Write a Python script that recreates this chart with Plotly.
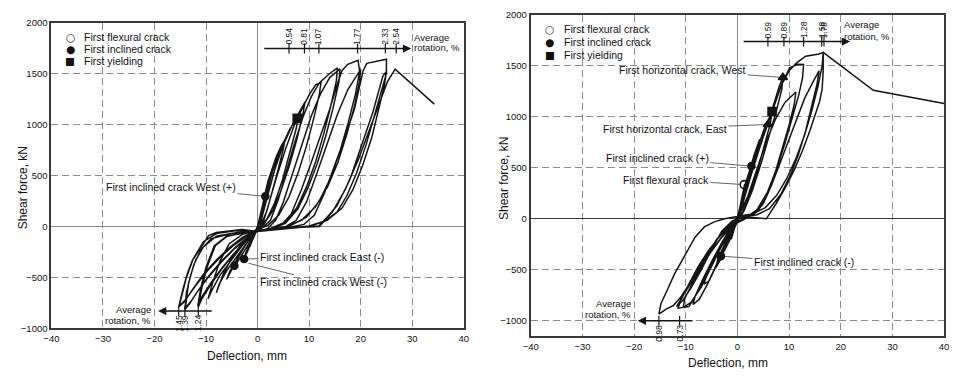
import plotly.graph_objects as go

# ---------------- data ----------------
# Specimen 1 (left): deflection (mm), shear force (kN) along the loading history
s1_path = [
    (0, 0), (0.5, 110), (1.0, 230), (1.6, 340), (1.4, 270), (0.8, 130), (0.1, 0), (-0.5, -70), (-1.0, -140),
    (-1.5, -200), (-1.3, -150), (-0.7, -70), (0, -10),
    (0.6, 110), (1.3, 290), (2.0, 440), (2.8, 560), (2.5, 470), (1.7, 280), (0.8, 100), (0, -20), (-0.9, -120),
    (-1.8, -230), (-2.6, -320), (-2.3, -260), (-1.4, -150), (-0.4, -50),
    (0.4, 60), (1.3, 280), (2.4, 500), (3.6, 680), (4.5, 780), (5.3, 850), (5.0, 760), (4.0, 560), (2.9, 340),
    (1.8, 150), (0.6, 10), (-0.8, -90), (-2.2, -210), (-3.6, -330), (-4.5, -400), (-4.0, -330), (-2.8, -220),
    (-1.5, -120), (-0.3, -40),
    (0.5, 50), (1.6, 290), (2.9, 540), (4.4, 750), (6.2, 950), (7.9, 1080), (7.5, 960), (6.2, 700), (4.8, 450),
    (3.3, 230), (1.8, 70), (0.3, -20), (-1.4, -110), (-3.0, -230), (-4.6, -380), (-6.0, -520), (-5.4, -440),
    (-3.9, -310), (-2.3, -180), (-0.7, -60),
    (0.6, 40), (1.9, 290), (3.3, 550), (5.0, 800), (6.8, 1000), (8.2, 1130), (9.2, 1220), (8.8, 1100), (7.6, 850),
    (6.2, 600), (4.6, 360), (3.0, 160), (1.2, 20), (-0.8, -60), (-2.8, -150), (-4.8, -290), (-6.6, -460),
    (-8.0, -650), (-7.4, -560), (-5.8, -420), (-4.0, -290), (-2.2, -170), (-0.5, -60),
    (1.0, 20), (2.4, 260), (3.9, 520), (5.5, 770), (7.1, 990), (8.6, 1150), (10.0, 1290), (11.3, 1390),
    (12.3, 1410), (12.0, 1300), (10.9, 1060), (9.5, 790), (7.9, 530), (6.1, 290), (4.1, 110), (2.0, 10),
    (-0.5, -40), (-3.0, -80), (-5.5, -170), (-7.3, -340), (-8.7, -550), (-9.6, -710), (-8.9, -630), (-7.3, -480),
    (-5.3, -340), (-3.3, -210), (-1.3, -90),
    (1.0, -10), (2.5, 60), (4.0, 260), (5.6, 540), (7.2, 820), (8.8, 1070), (10.4, 1270), (12.0, 1410),
    (14.0, 1500), (15.5, 1555), (15.3, 1430), (14.2, 1180), (12.8, 900), (11.3, 640), (9.6, 400), (7.6, 180),
    (5.2, 40), (2.5, -20), (0, -45), (-3.0, -65), (-6.0, -100), (-8.2, -190), (-9.8, -400), (-10.8, -600),
    (-11.5, -790), (-10.8, -710), (-9.2, -580), (-7.0, -420), (-4.8, -280), (-2.5, -150), (-0.5, -60),
    (2.0, -20), (3.5, 60), (5.0, 240), (6.8, 520), (8.6, 820), (10.4, 1080), (12.2, 1300), (14.0, 1460),
    (16.0, 1545), (15.8, 1420), (14.6, 1150), (13.2, 880), (11.6, 620), (9.8, 380), (7.8, 170), (5.4, 30),
    (2.6, -25), (0, -50), (-3.0, -70), (-6.0, -95), (-8.4, -190), (-10.0, -400), (-11.0, -600), (-11.6, -780),
    (-10.8, -690), (-9.0, -550), (-6.8, -400), (-4.5, -260), (-2.2, -140), (-0.3, -55),
    (2.5, -20), (4.5, 10), (6.5, 120), (8.5, 360), (10.5, 640), (12.3, 900), (14.0, 1150), (15.5, 1400),
    (16.4, 1530), (17.5, 1590), (19.5, 1630), (19.8, 1520), (19.0, 1300), (17.6, 1020), (16.0, 740), (14.2, 480),
    (12.0, 250), (9.5, 90), (6.5, 10), (3.0, -30), (0, -50), (-4.0, -60), (-8.0, -95), (-10.5, -200),
    (-12.0, -330), (-13.0, -480), (-13.8, -650), (-14.1, -815), (-13.2, -760), (-11.8, -650), (-9.6, -500),
    (-7.0, -350), (-4.5, -220), (-2.0, -110), (-0.2, -50),
    (3.0, -20), (5.5, 0), (7.5, 60), (9.5, 240), (11.5, 520), (13.5, 820), (15.5, 1100), (17.5, 1340),
    (19.2, 1480), (20.0, 1540), (19.8, 1420), (18.8, 1180), (17.3, 900), (15.6, 630), (13.6, 390), (11.2, 190),
    (8.5, 60), (5.5, -5), (2.0, -40), (-1.0, -55), (-5.0, -70), (-9.0, -120), (-11.0, -230), (-12.4, -380),
    (-13.4, -560), (-14.0, -800), (-13.0, -740), (-11.4, -620), (-9.2, -470), (-6.8, -330), (-4.2, -200),
    (-1.8, -100), (0, -45),
    (3.5, -15), (6.5, -5), (9.0, 20), (11.0, 110), (13.0, 330), (15.0, 600), (17.0, 880), (18.8, 1150),
    (20.0, 1400), (20.5, 1530), (21.2, 1600), (22.8, 1615), (25.0, 1640), (25.0, 1500), (24.0, 1320),
    (23.0, 1155), (21.1, 807), (19.2, 521), (17.3, 298), (15.4, 140), (13.0, 50), (10.0, 0), (6.0, -20),
    (2.0, -40), (0, -50), (-3.0, -30), (-6.0, -45), (-8.0, -60), (-9.5, -90), (-11.4, -240), (-12.7, -340),
    (-13.6, -460), (-14.5, -620), (-15.3, -790), (-14.2, -740), (-12.5, -610), (-10.5, -470), (-8.0, -330),
    (-5.5, -210), (-3.0, -110), (-0.8, -50),
    (2.0, -25), (5.0, -15), (8.0, -5), (11.9, 5), (14.0, 120), (15.4, 203), (17.9, 457), (20.5, 838),
    (22.4, 1124), (24.3, 1473), (25.0, 1520), (24.6, 1380), (23.6, 1160), (22.2, 880), (20.4, 600), (18.5, 360),
    (16.4, 180), (13.5, 60), (10.0, 5), (6.0, -20), (2.0, -40), (0, -50), (-4.0, -40), (-8.0, -70),
    (-10.5, -150), (-12.5, -320), (-13.8, -500), (-15.2, -780), (-14.0, -720), (-12.0, -580), (-9.8, -440),
    (-7.2, -300), (-4.5, -180), (-2.0, -90), (0, -40),
    (3.0, -20), (7.0, -10), (12.0, 0), (14.5, 140), (17.0, 360), (19.5, 650), (21.5, 920), (23.5, 1200),
    (25.2, 1420), (26.7, 1543), (32.3, 1290), (34.3, 1200),
]

# Specimen 2 (right)
s2_path = [
    (0, 0), (0.5, 120), (1.0, 250), (1.4, 340), (1.2, 270), (0.6, 110), (-0.1, -20), (-0.7, -120), (-1.2, -200),
    (-1.0, -150), (-0.4, -50), (0, 10),
    (0.7, 160), (1.5, 340), (2.2, 450), (2.8, 530), (2.6, 450), (1.7, 270), (0.7, 80), (-0.4, -70), (-1.5, -210),
    (-2.4, -300), (-3.2, -366), (-2.9, -300), (-1.9, -170), (-0.7, -40), (0.2, 40),
    (1.0, 230), (2.0, 420), (3.2, 620), (4.3, 780), (4.0, 680), (2.9, 470), (1.7, 260), (0.5, 60), (-0.7, -90),
    (-2.0, -250), (-3.4, -410), (-4.2, -480), (-3.8, -400), (-2.6, -260), (-1.2, -110), (0.1, 30),
    (1.2, 240), (2.6, 480), (4.0, 710), (5.1, 870), (6.0, 980), (6.7, 1052), (6.4, 940), (5.2, 710), (3.8, 460),
    (2.4, 240), (0.9, 60), (-0.8, -110), (-2.5, -290), (-4.1, -470), (-5.5, -610), (-6.5, -640), (-6.0, -560),
    (-4.6, -400), (-3.0, -240), (-1.4, -90), (0, 20),
    (1.4, 260), (3.0, 540), (4.5, 780), (5.9, 940), (7.2, 1160), (8.1, 1300), (8.8, 1390), (8.6, 1270),
    (7.5, 1050), (6.1, 800), (4.5, 530), (2.9, 280), (1.3, 80), (-0.4, -60), (-2.2, -240), (-4.0, -440),
    (-5.8, -640), (-7.4, -790), (-8.6, -840), (-8.2, -760), (-6.6, -580), (-4.8, -400), (-3.0, -230),
    (-1.2, -80), (0.2, 30),
    (1.6, 260), (3.4, 560), (5.2, 830), (7.0, 1090), (8.6, 1320), (10.1, 1480), (11.7, 1515), (12.8, 1513),
    (12.6, 1380), (11.8, 1200), (10.6, 980), (9.2, 740), (7.6, 490), (5.8, 260), (3.8, 90), (1.6, 10),
    (-0.5, -40), (-2.6, -200), (-4.6, -400), (-6.6, -610), (-8.4, -780), (-9.4, -860), (-11.5, -876),
    (-11.0, -800), (-9.4, -640), (-7.6, -470), (-5.6, -310), (-3.4, -170), (-1.2, -50), (0.2, 25),
    (2.0, 220), (3.8, 500), (5.6, 760), (7.4, 980), (9.2, 1140), (11.3, 1243), (11.0, 1120), (10.0, 920),
    (8.8, 700), (7.4, 470), (5.8, 250), (3.8, 80), (1.5, 0), (-0.8, -60), (-3.0, -260), (-5.0, -470),
    (-7.0, -670), (-9.0, -820), (-10.5, -870), (-10.2, -780), (-8.6, -620), (-6.6, -440), (-4.4, -270),
    (-2.2, -120), (0, 10),
    (1.6, 260), (3.4, 560), (5.2, 840), (7.0, 1100), (8.6, 1320), (10.0, 1450), (11.5, 1530), (13.2, 1593),
    (15.8, 1616), (16.6, 1632), (16.4, 1500), (15.6, 1300), (14.4, 1060), (13.0, 820), (11.4, 600), (9.6, 400),
    (7.6, 230), (5.4, 110), (3.0, 50), (0.8, 30), (-1.0, 10), (-2.5, 0), (-4.5, -30), (-6.4, -80), (-8.2, -180),
    (-9.7, -318), (-11.0, -430), (-12.2, -542), (-13.6, -700), (-14.8, -829), (-15.2, -934), (-13.8, -885),
    (-12.4, -850), (-11.0, -770), (-9.2, -630), (-7.4, -480), (-5.8, -340), (-4.0, -200), (-2.0, -80), (0, 10),
    (2.0, 20), (3.6, 60), (5.0, 150), (6.6, 330), (8.2, 540), (9.8, 760), (11.4, 980), (13.0, 1180),
    (14.6, 1340), (15.8, 1450), (15.4, 1320), (14.4, 1100), (13.2, 860), (11.8, 630), (10.2, 420), (8.4, 240),
    (6.2, 100), (3.8, 40), (1.2, 20), (-1.0, -20), (-3.0, -120), (-5.0, -300), (-7.0, -500), (-9.0, -680),
    (-10.6, -800), (-11.8, -860), (-11.0, -790), (-9.4, -660), (-7.4, -500), (-5.2, -330), (-3.0, -180),
    (-0.8, -60), (0.5, 10),
    (2.4, 16), (4.0, 10), (5.6, 0), (7.5, 150), (9.4, 318), (11.0, 480), (12.6, 669), (14.0, 860),
    (15.1, 1020), (15.9, 1150), (16.4, 1274), (16.6, 1450), (16.6, 1632), (26.3, 1259), (40.0, 1131),
]

# event markers
s1_incl_x = [1.5, -2.6, -4.5]
s1_incl_y = [295, -320, -385]
s1_yield_x = [7.7]
s1_yield_y = [1060]

s2_flex_x = [1.3]
s2_flex_y = [335]
s2_incl_x = [2.7, -3.2]
s2_incl_y = [516, -366]
s2_yield_x = [6.7]
s2_yield_y = [1052]
s2_horiz_x = [8.8, 5.9]
s2_horiz_y = [1386, 924]

# average rotation scales
rot1_top_pos = [6.1, 9.1, 11.9, 19.4, 24.8, 26.9]
rot1_top_lab = ["0.54", "0.81", "1.07", "1.77", "2.33", "2.54"]
rot1_bot_pos = [-15.3, -14.1, -11.5]
rot1_bot_lab = ["1.45", "1.39", "1.24"]
rot2_top_pos = [5.9, 9.0, 12.8, 16.3, 16.75]
rot2_top_lab = ["0.59", "0.89", "1.28", "1.58", "1.78"]
rot2_bot_pos = [-15.2, -11.2]
rot2_bot_lab = ["0.98", "0.73"]

legend_labels = ["First flexural crack", "First inclined crack", "First yielding"]
legend_symbols = ["○", "●", "■"]

# ---------------- figure ----------------
W, H = 956, 379
FONT = "Liberation Sans, Arial, Helvetica, sans-serif"
INK = "#151515"


def px(v):
    return v / W


def py(v):
    return 1 - v / H


fig = go.Figure()

for path, xa, ya in [(s1_path, "x", "y"), (s2_path, "x2", "y2")]:
    fig.add_trace(go.Scatter(
        x=[p[0] for p in path], y=[p[1] for p in path], mode="lines",
        line=dict(color=INK, width=1.5), xaxis=xa, yaxis=ya,
        showlegend=False, hoverinfo="skip"))


def add_markers(xs, ys, symbol, size, xa, ya, fill=INK):
    fig.add_trace(go.Scatter(
        x=xs, y=ys, mode="markers", xaxis=xa, yaxis=ya, showlegend=False, hoverinfo="skip",
        marker=dict(symbol=symbol, size=size, color=fill, line=dict(color=INK, width=1.6))))


add_markers(s1_incl_x, s1_incl_y, "circle", 7, "x", "y")
add_markers(s1_yield_x, s1_yield_y, "square", 8, "x", "y")
add_markers(s2_flex_x, s2_flex_y, "circle-open", 8, "x2", "y2")
add_markers(s2_incl_x, s2_incl_y, "circle", 7, "x2", "y2")
add_markers(s2_yield_x, s2_yield_y, "square", 8, "x2", "y2")
add_markers(s2_horiz_x, s2_horiz_y, "triangle-up", 8, "x2", "y2")

axis_common = dict(
    showgrid=True, gridcolor="#8c8c8c", griddash="7px,4px", gridwidth=1,
    zeroline=True, zerolinecolor="#8c8c8c", zerolinewidth=1.2,
    showline=True, linecolor="#3a3a3a", linewidth=2, mirror=True,
    ticks="", tickfont=dict(family=FONT, size=9.5, color="#111"),
)
right_y_axis = dict(axis_common, zerolinecolor="#3a3a3a")

fig.update_layout(
    width=W, height=H, margin=dict(l=0, r=0, t=0, b=0),
    paper_bgcolor="white", plot_bgcolor="white", showlegend=False,
    font=dict(family=FONT, color="#111"),
    xaxis=dict(domain=[px(44), px(462)], range=[-40, 40], dtick=10, anchor="y", **axis_common),
    yaxis=dict(domain=[py(332), py(17)], range=[-1000, 2000], dtick=500, anchor="x", **axis_common),
    xaxis2=dict(domain=[px(530), px(949)], range=[-40, 40], dtick=10, anchor="y2", **axis_common),
    yaxis2=dict(domain=[py(340), py(9)], range=[-1150, 2000], dtick=500, tick0=0, anchor="x2", **right_y_axis),
)

ann = []
shapes = []

# axis titles
ann.append(dict(xref="paper", yref="paper", x=px(242), y=py(360), text="Deflection, mm", showarrow=False,
                font=dict(size=12), xanchor="center", yanchor="middle"))
ann.append(dict(xref="paper", yref="paper", x=px(730), y=py(368), text="Deflection, mm", showarrow=False,
                font=dict(size=12), xanchor="center", yanchor="middle"))
ann.append(dict(xref="paper", yref="paper", x=px(15), y=py(187), text="Shear force, kN", showarrow=False,
                textangle=-90, font=dict(size=12), xanchor="center", yanchor="middle"))
ann.append(dict(xref="paper", yref="paper", x=px(503), y=py(178), text="Shear force, kN", showarrow=False,
                textangle=-90, font=dict(size=12), xanchor="center", yanchor="middle"))

# legends (symbol + text)
for sx, tx, rows in [(63, 76, [32, 44, 57]), (549, 563, [24, 37, 50])]:
    for sym, lab, ry in zip(legend_symbols, legend_labels, rows):
        ann.append(dict(xref="paper", yref="paper", x=px(sx), y=py(ry), text=sym, showarrow=False,
                        font=dict(size=10.5, family="DejaVu Sans"), xanchor="center", yanchor="middle",
                        borderpad=0))
        ann.append(dict(xref="paper", yref="paper", x=px(tx), y=py(ry), text=lab, showarrow=False,
                        font=dict(size=10.5), xanchor="left", yanchor="middle", borderpad=0))

# average-rotation scales
def rotation_scale(xa, ya, pos, labs, level, x_from, x_to, above, half):
    ann.append(dict(xref=xa, yref=ya, axref=xa, ayref=ya, x=x_to, y=level, ax=x_from, ay=level, text="",
                    showarrow=True, arrowhead=2, arrowsize=1.1, arrowwidth=1.5, arrowcolor=INK))
    for p, lab in zip(pos, labs):
        shapes.append(dict(type="line", xref=xa, yref=ya, x0=p, x1=p, y0=level - half, y1=level + half,
                           line=dict(color=INK, width=1.2)))
        ann.append(dict(xref=xa, yref=ya, x=p, y=level + (15 if above else -15), text=lab, showarrow=False,
                        textangle=-90, font=dict(size=8.5), xanchor="center",
                        yanchor="bottom" if above else "top"))


rotation_scale("x", "y", rot1_top_pos, rot1_top_lab, 1745, 1.0, 29.8, True, 48)
rotation_scale("x", "y", rot1_bot_pos, rot1_bot_lab, -830, -8.6, -19.3, False, 48)
rotation_scale("x2", "y2", rot2_top_pos, rot2_top_lab, 1737, 0.9, 21.8, True, 48)
rotation_scale("x2", "y2", rot2_bot_pos, rot2_bot_lab, -1000, -8.4, -19.3, False, 48)

# "Average rotation, %" captions
for x0, y1, y2, anchor in [(410, 32, 43, "left"), (147, 313, 324, "right"),
                           (845, 19, 31, "left"), (634, 306, 318, "right")]:
    ann.append(dict(xref="paper", yref="paper", x=px(x0), y=py(y1), text="Average", showarrow=False,
                    font=dict(size=9.5), xanchor=anchor, yanchor="middle"))
    ann.append(dict(xref="paper", yref="paper", x=px(x0), y=py(y2), text="rotation, %", showarrow=False,
                    font=dict(size=9.5), xanchor=anchor, yanchor="middle"))

# callouts with leader lines
callouts = [
    ("x", "y", 1.5, 295, "First inclined crack West (+)", -94, -9),
    ("x", "y", -2.6, -320, "First inclined crack East (-)", 78, -2),
    ("x", "y", -2.5, -352, "First inclined crack West (-)", 79, 20),
    ("x2", "y2", 8.8, 1386, "First horizontal crack, West", -100, -7),
    ("x2", "y2", 5.9, 924, "First horizontal crack, East", -103, 4),
    ("x2", "y2", 2.7, 516, "First inclined crack (+)", -94, -8),
    ("x2", "y2", 1.3, 335, "First flexural crack", -78, -5),
    ("x2", "y2", -3.2, -366, "First inclined crack (-)", 83, 6),
]
for xa, ya, cx, cy, txt, dx, dy in callouts:
    ann.append(dict(xref=xa, yref=ya, x=cx, y=cy, ax=dx, ay=dy, text=txt, showarrow=True,
                    arrowhead=0, arrowwidth=0.9, arrowcolor="#555", standoff=4,
                    font=dict(size=10.5)))

fig.update_layout(annotations=ann, shapes=shapes)

fig.write_html("out.html")
